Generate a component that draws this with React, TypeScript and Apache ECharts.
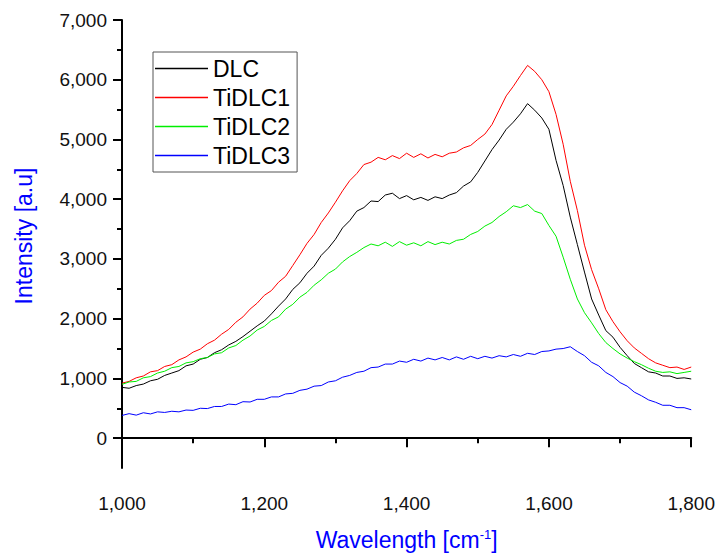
import React, { useEffect, useRef } from 'react';
import * as echarts from 'echarts';

const FONT = '"Liberation Sans", Arial, Helvetica, sans-serif';

// Wavelength samples (cm^-1), every 10 from 1000 to 1800
const wavelengths: number[] = Array.from({ length: 81 }, (_, i) => 1000 + i * 10);

const seriesNames = ['DLC', 'TiDLC1', 'TiDLC2', 'TiDLC3'];
const seriesColors = ['#000000', '#ff0000', '#00ee00', '#0000ff'];

const dlc = [
  850, 835, 880, 905, 960, 985, 1050, 1090, 1130, 1210,
  1240, 1320, 1350, 1430, 1480, 1560, 1620, 1700, 1790, 1880,
  1960, 2080, 2210, 2330, 2490, 2600, 2760, 2880, 3060, 3180,
  3330, 3520, 3640, 3800, 3860, 3970, 3960, 4070, 4100, 4010,
  4060, 3990, 4030, 3980, 4040, 4010, 4070, 4110, 4220, 4290,
  4450, 4640, 4830, 4990, 5170, 5290, 5430, 5600, 5490, 5360,
  5170, 4650, 4230, 3700, 3240, 2780, 2330, 2060, 1800, 1690,
  1520, 1380, 1250, 1180, 1110, 1090, 1040, 1040, 1000, 1010,
  990,
];

const tidlc1 = [
  920, 950, 1010, 1040, 1110, 1130, 1200, 1230, 1310, 1360,
  1440, 1490, 1580, 1640, 1740, 1820, 1940, 2030, 2160, 2260,
  2390, 2470, 2610, 2710, 2890, 3070, 3260, 3410, 3610, 3770,
  3950, 4140, 4310, 4430, 4580, 4620, 4700, 4660, 4730, 4680,
  4770, 4700, 4760, 4690, 4750, 4710, 4770, 4790, 4860, 4900,
  5000, 5090, 5250, 5490, 5730, 5890, 6070, 6240, 6140, 6000,
  5800, 5420, 4920, 4300, 3810, 3230, 2820, 2500, 2150, 1950,
  1780, 1630, 1510, 1420, 1330, 1260, 1220, 1180, 1190, 1150,
  1190,
];

const tidlc2 = [
  900, 940, 950, 1010, 1030, 1090, 1120, 1180, 1200, 1260,
  1280, 1330, 1350, 1410, 1430, 1510, 1550, 1640, 1710, 1810,
  1870, 1970, 2030, 2160, 2240, 2360, 2440, 2560, 2650, 2760,
  2830, 2950, 3040, 3110, 3190, 3250, 3220, 3280, 3210, 3290,
  3230, 3270, 3220, 3290, 3240, 3280, 3250, 3310, 3330, 3410,
  3460, 3550, 3610, 3710, 3790, 3890, 3860, 3910, 3800, 3760,
  3560, 3380, 3030, 2660, 2330, 2100, 1930, 1750, 1600, 1500,
  1410, 1340, 1280, 1230, 1170, 1120, 1100, 1110, 1080, 1100,
  1120,
];

const tidlc3 = [
  380, 410, 385, 425, 405, 440, 430, 450, 440, 470,
  465, 500, 495, 530, 530, 570, 560, 610, 605, 650,
  650, 690, 690, 740, 750, 800, 820, 870, 880, 940,
  960, 1020, 1050, 1100, 1120, 1180, 1190, 1240, 1240, 1290,
  1270, 1320, 1290, 1340, 1310, 1350, 1310, 1360, 1320, 1370,
  1330, 1370, 1340, 1380, 1360, 1400, 1370, 1420, 1400, 1450,
  1460, 1490, 1500, 1530, 1450, 1380, 1270, 1210, 1100, 1030,
  930, 870, 770, 710, 640, 600, 550, 550, 510, 510,
  475,
];

const seriesValues = [dlc, tidlc1, tidlc2, tidlc3];

const yMajorTicks = [0, 1000, 2000, 3000, 4000, 5000, 6000, 7000];
const yMinorTicks = [500, 1500, 2500, 3500, 4500, 5500, 6500];

const fmt = (v: number) => v.toLocaleString('en-US');

export default function App() {
  const ref = useRef<HTMLDivElement>(null);

  useEffect(() => {
    document.body.style.margin = '0';
    const chart = echarts.init(ref.current!, null, { renderer: 'svg' });

    const axisColor = '#000';
    const labelStyle = { fontSize: 19, color: '#111', fontFamily: FONT };

    chart.setOption({
      animation: false,
      backgroundColor: '#ffffff',
      grid: { left: 122, top: 20, right: 26, bottom: 77 },
      legend: {
        left: 153,
        top: 52,
        orient: 'vertical',
        data: seriesNames.map((n) => ({ name: n, icon: 'rect' })),
        itemWidth: 53,
        itemHeight: 1.5,
        itemGap: 6,
        itemTextGap: 6,
        padding: [5, 7, 5, 2],
        borderColor: '#555',
        borderWidth: 1,
        textStyle: { fontSize: 23, color: '#000', fontFamily: FONT },
      },
      xAxis: {
        type: 'value',
        min: 1000,
        max: 1800,
        interval: 200,
        name: '{a|Wavelength [cm}{s|-1}{a|]}',
        nameLocation: 'middle',
        nameGap: 60,
        nameTextStyle: {
          color: '#0000ff',
          fontSize: 23,
          fontFamily: FONT,
          rich: {
            a: { color: '#0000ff', fontSize: 23, fontFamily: FONT },
            s: { color: '#0000ff', fontSize: 13, fontFamily: FONT, verticalAlign: 'top' },
          },
        },
        axisLine: { show: true, lineStyle: { color: axisColor, width: 2 } },
        axisTick: { show: true, length: 9, lineStyle: { color: axisColor, width: 2 } },
        minorTick: { show: true, splitNumber: 2, length: 5, lineStyle: { color: axisColor, width: 2 } },
        splitLine: { show: false },
        minorSplitLine: { show: false },
        axisLabel: { ...labelStyle, margin: 26, formatter: (v: number) => fmt(v) },
      },
      yAxis: [
        {
          type: 'value',
          min: -500,
          max: 7000,
          position: 'left',
          axisLine: { show: true, lineStyle: { color: axisColor, width: 2 } },
          axisTick: { show: true, length: 9, customValues: yMajorTicks, lineStyle: { color: axisColor, width: 2 } },
          axisLabel: { ...labelStyle, margin: 15, customValues: yMajorTicks, formatter: (v: number) => fmt(v) },
          splitLine: { show: false },
        },
        {
          type: 'value',
          min: -500,
          max: 7000,
          position: 'left',
          axisLine: { show: false },
          axisTick: { show: true, length: 5, customValues: yMinorTicks, lineStyle: { color: axisColor, width: 2 } },
          axisLabel: { show: false },
          splitLine: { show: false },
        },
      ],
      graphic: [
        {
          type: 'text',
          x: 24,
          y: 236,
          rotation: Math.PI / 2,
          style: {
            text: 'Intensity [a.u]',
            fill: '#0000ff',
            fontSize: 23,
            fontFamily: FONT,
            align: 'center',
            verticalAlign: 'middle',
          },
        },
      ],
      series: seriesNames.map((name, k) => ({
        name,
        type: 'line',
        yAxisIndex: 0,
        symbol: 'none',
        showSymbol: false,
        color: seriesColors[k],
        lineStyle: { color: seriesColors[k], width: 1 },
        data: wavelengths.map((w, i) => [w, seriesValues[k][i]]),
      })),
    });

    return () => chart.dispose();
  }, []);

  return <div ref={ref} style={{ width: 718, height: 556 }} />;
}
